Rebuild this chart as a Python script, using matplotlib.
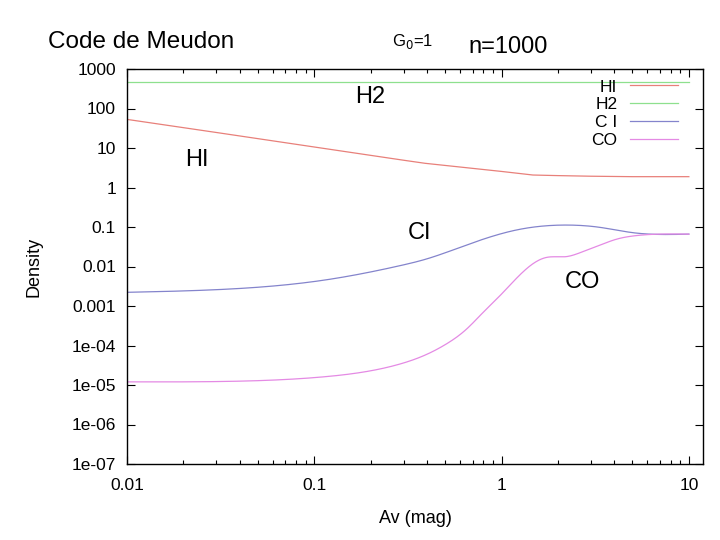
import matplotlib
matplotlib.use("Agg")
import matplotlib.pyplot as plt
import numpy as np
from matplotlib.ticker import LogLocator, FixedLocator, NullFormatter

plt.rcParams['font.family'] = ['Liberation Sans', 'DejaVu Sans']

# Data (Av in mag, densities)
av_hi = [0.01, 0.03, 0.1, 0.3, 0.39, 1.0, 1.47, 2.0, 3.0, 5.0, 10.0]
hi = [53, 24.7, 10.6, 4.9, 4.1, 2.55, 2.07, 2.0, 1.93, 1.88, 1.88]

av_h2 = [0.01, 10.0]
h2 = [480, 480]

av_ci = [0.01, 0.0333, 0.114, 0.287, 0.39, 0.65, 1.2, 2.22, 3.35, 5.0, 10.0]
ci = [0.00222, 0.00265, 0.00455, 0.0105, 0.0151, 0.035, 0.084, 0.112, 0.098, 0.072, 0.066]

av_co = [0.01, 0.0333, 0.114, 0.211, 0.287, 0.39, 0.5, 0.65, 0.8, 0.98, 1.2, 1.48,
         1.74, 2.22, 2.73, 3.35, 4.1, 5.0, 10.0]
co = [1.2e-5, 1.23e-5, 1.62e-5, 2.4e-5, 3.4e-5, 5.7e-5, 1.05e-4, 2.6e-4, 7.0e-4, 1.82e-3,
      5.0e-3, 1.2e-2, 1.7e-2, 1.78e-2, 2.4e-2, 3.47e-2, 4.9e-2, 5.9e-2, 6.6e-2]

ytick_vals = [1e3, 1e2, 1e1, 1, 0.1, 0.01, 0.001, 1e-4, 1e-5, 1e-6, 1e-7]
ytick_labels = ["1000", "100", "10", "1", "0.1", "0.01", "0.001",
                "1e-04", "1e-05", "1e-06", "1e-07"]
xtick_vals = [0.01, 0.1, 1, 10]
xtick_labels = ["0.01", "0.1", "1", "10"]


def spline(x, y, n=500):
    """Natural cubic spline in log-log space."""
    lx = np.log10(np.asarray(x, float)); ly = np.log10(np.asarray(y, float))
    N = len(lx); h = np.diff(lx)
    A = np.zeros((N, N)); b = np.zeros(N)
    A[0, 0] = 1; A[-1, -1] = 1
    for i in range(1, N - 1):
        A[i, i-1] = h[i-1]; A[i, i] = 2*(h[i-1] + h[i]); A[i, i+1] = h[i]
        b[i] = 6*((ly[i+1]-ly[i])/h[i] - (ly[i]-ly[i-1])/h[i-1])
    M = np.linalg.solve(A, b)
    xs = np.linspace(lx[0], lx[-1], n)
    i = np.clip(np.searchsorted(lx, xs) - 1, 0, N - 2)
    t1 = lx[i+1] - xs; t0 = xs - lx[i]; hi_ = h[i]
    ys = (M[i]*t1**3 + M[i+1]*t0**3)/(6*hi_) + (ly[i]/hi_ - M[i]*hi_/6)*t1 \
        + (ly[i+1]/hi_ - M[i+1]*hi_/6)*t0
    return 10**xs, 10**ys


fig = plt.figure(figsize=(7.2, 5.4), dpi=100)
ax = fig.add_axes([127/720, 1 - 464/540, (703-127)/720, (464-69)/540])

ax.plot(av_hi, hi, color='#e8807a', lw=0.9, label='HI')
ax.plot(av_h2, h2, color='#8ee08e', lw=0.9, label='H2')
x, y = spline(av_ci, ci)
ax.plot(x, y, color='#8484cc', lw=0.9, label='C I')
x, y = spline(av_co, co)
ax.plot(x, y, color='#e48ae4', lw=0.9, label='CO')

ax.set_xscale('log'); ax.set_yscale('log')
ax.set_xlim(0.01, 11.9)
ax.set_ylim(1e-7, 1e3)
ax.yaxis.set_major_locator(FixedLocator(ytick_vals))
ax.set_yticklabels(ytick_labels)
ax.yaxis.set_minor_locator(FixedLocator([]))
ax.xaxis.set_major_locator(FixedLocator(xtick_vals))
ax.set_xticklabels(xtick_labels)
ax.xaxis.set_minor_locator(LogLocator(base=10, subs=np.arange(2, 10)))
ax.xaxis.set_minor_formatter(NullFormatter())
ax.tick_params(which='both', direction='in', top=True, right=True, labelsize=12.5)
ax.tick_params(axis='y', pad=8)
ax.tick_params(axis='x', pad=10)
ax.tick_params(which='major', length=6, width=0.8)
ax.tick_params(which='minor', length=3, width=0.8)
for s in ax.spines.values():
    s.set_linewidth(1.0)

ax.set_xlabel('Av (mag)', fontsize=13, labelpad=12)
ax.set_ylabel('Density', fontsize=13, labelpad=21)

leg = ax.legend(loc='upper right', bbox_to_anchor=(0.975, 1.0), frameon=False,
                fontsize=12.5, markerfirst=False, handlelength=2.8, handletextpad=0.7,
                labelspacing=0.15, borderaxespad=0.2)
for t in leg.get_texts():
    t.set_ha('right')

ax.text(0.0237, 5, 'HI', fontsize=17, ha='center', va='center')
ax.text(0.198, 195, 'H2', fontsize=17, ha='center', va='center')
ax.text(0.366, 0.071, 'CI', fontsize=17, ha='center', va='center')
ax.text(2.69, 0.0041, 'CO', fontsize=17, ha='center', va='center')

fig.text(48/720, 1 - 42/540, 'Code de Meudon', fontsize=17.5, ha='left', va='center')
fig.text(392/720, 1 - 42/540, r'G$_0$=1', fontsize=12, ha='left', va='center')
fig.text(468/720, 1 - 47/540, 'n=1000', fontsize=17, ha='left', va='center')

fig.savefig('out.png', dpi=100)
